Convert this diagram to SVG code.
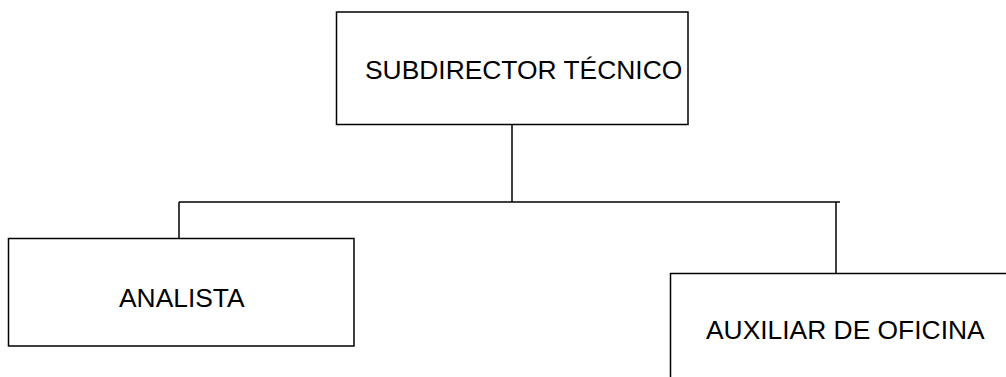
<svg xmlns="http://www.w3.org/2000/svg" width="1006" height="377" viewBox="0 0 1006 377">
<style>
.box{fill:#fff;stroke:#000;stroke-width:1.5}
.ln{fill:none;stroke:#000;stroke-width:1.5}
.t{font-family:"Liberation Sans",Arial,sans-serif;font-size:26.4px;fill:#000}
</style>
<rect width="1006" height="377" fill="#fff"/>
<g id="connectors">
<line class="ln" x1="512" y1="124.5" x2="512" y2="202"/>
<line class="ln" x1="179" y1="202" x2="840" y2="202"/>
<line class="ln" x1="179" y1="202" x2="179" y2="238.5"/>
<line class="ln" x1="836" y1="202" x2="836" y2="273.5"/>
</g>
<g id="subdirector">
<rect class="box" x="336.5" y="12" width="351.5" height="112.5"/>
<text class="t" x="365" y="79">SUBDIRECTOR TÉCNICO</text>
</g>
<g id="analista">
<rect class="box" x="8.5" y="238.5" width="345.5" height="107.5"/>
<text class="t" x="119" y="306.5">ANALISTA</text>
</g>
<g id="auxiliar">
<rect class="box" x="670.5" y="273.5" width="340" height="120"/>
<text class="t" x="706" y="339">AUXILIAR DE OFICINA</text>
</g>
</svg>
